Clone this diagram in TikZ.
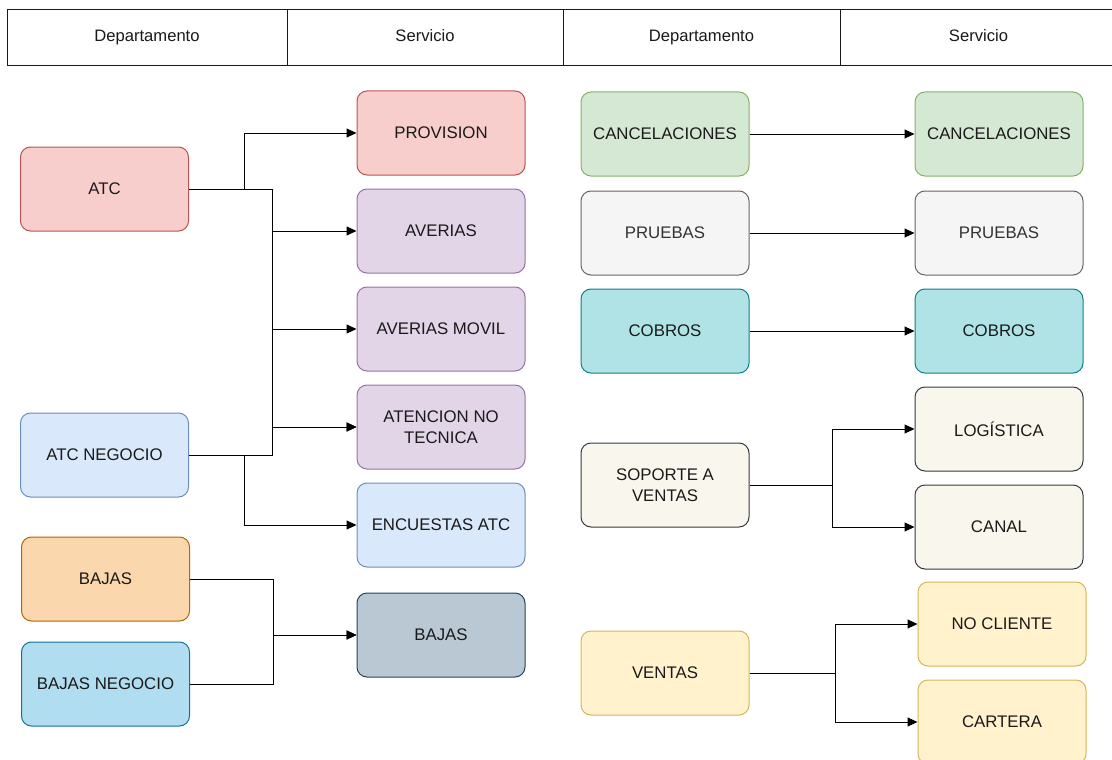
\documentclass[tikz,border=0pt]{standalone}
\usepackage{fontspec}
\setmainfont{Liberation Sans}
\usetikzlibrary{arrows.meta}

% draw.io palette
\definecolor{redF}{HTML}{F8CECC}\definecolor{redS}{HTML}{B85450}
\definecolor{purF}{HTML}{E1D5E7}\definecolor{purS}{HTML}{9673A6}
\definecolor{bluF}{HTML}{DAE8FC}\definecolor{bluS}{HTML}{6C8EBF}
\definecolor{oraF}{HTML}{FAD7AC}\definecolor{oraS}{HTML}{B46504}
\definecolor{skyF}{HTML}{B1DDF0}\definecolor{skyS}{HTML}{10739E}
\definecolor{slaF}{HTML}{BAC8D3}\definecolor{slaS}{HTML}{23445D}
\definecolor{grnF}{HTML}{D5E8D4}\definecolor{grnS}{HTML}{82B366}
\definecolor{gryF}{HTML}{F5F5F5}\definecolor{gryS}{HTML}{666666}\definecolor{gryT}{HTML}{333333}
\definecolor{tealF}{HTML}{B0E3E6}\definecolor{tealS}{HTML}{0E8088}
\definecolor{crmF}{HTML}{F9F7ED}\definecolor{crmS}{HTML}{36393D}
\definecolor{ylwF}{HTML}{FFF2CC}\definecolor{ylwS}{HTML}{D6B656}
\definecolor{ink}{HTML}{1A1A1A}

\begin{document}
\begin{tikzpicture}[x=1pt,y=-1pt,
  box/.style={rounded corners=10pt, minimum width=168pt, minimum height=84pt,
    line width=1pt, align=center, text=ink, inner sep=2pt,
    font=\fontsize{16.8}{21}\selectfont},
  red/.style={box, draw=redS, fill=redF},
  pur/.style={box, draw=purS, fill=purF},
  blu/.style={box, draw=bluS, fill=bluF},
  ora/.style={box, draw=oraS, fill=oraF},
  sky/.style={box, draw=skyS, fill=skyF},
  sla/.style={box, draw=slaS, fill=slaF},
  grn/.style={box, draw=grnS, fill=grnF},
  gry/.style={box, draw=gryS, fill=gryF, text=gryT},
  teal/.style={box, draw=tealS, fill=tealF},
  crm/.style={box, draw=crmS, fill=crmF},
  ylw/.style={box, draw=ylwS, fill=ylwF},
  hdr/.style={draw=ink, line width=1pt, fill=white, minimum height=56pt,
    inner sep=0pt, text height=12pt, text depth=3.5pt, text=ink,
    font=\fontsize{16.6}{20}\selectfont},
  link/.style={draw=black, line width=1pt, -{Triangle[length=10pt,width=9pt]}},
]
\useasboundingbox (0,0) rectangle (1112,760);

% header row
\node[hdr, minimum width=280pt] (h1) at (147,37.5) {Departamento};
\node[hdr, minimum width=276pt] (h2) at (425,37.5) {Servicio};
\node[hdr, minimum width=277pt] (h3) at (701.5,37.5) {Departamento};
\node[hdr, minimum width=277pt] (h4) at (978.5,37.5) {Servicio};

% left departments
\node[red] (atc)  at (104.5,189) {ATC};
\node[blu] (atcn) at (104.5,455) {ATC NEGOCIO};
\node[ora] (baj)  at (105.5,579) {BAJAS};
\node[sky] (bajn) at (105.5,684) {BAJAS NEGOCIO};

% left services
\node[red] (prov) at (441,133) {PROVISION};
\node[pur] (ave)  at (441,231) {AVERIAS};
\node[pur] (avem) at (441,329) {AVERIAS MOVIL};
\node[pur] (anot) at (441,427) {ATENCION NO\\TECNICA};
\node[blu] (enc)  at (441,525) {ENCUESTAS ATC};
\node[sla] (bajs) at (441,635) {BAJAS};

% right departments
\node[grn]  (cand) at (665,134) {CANCELACIONES};
\node[gry]  (prud) at (665,233) {PRUEBAS};
\node[teal] (cobd) at (665,331) {COBROS};
\node[crm]  (sop)  at (665,485) {SOPORTE A\\VENTAS};
\node[ylw]  (ven)  at (665,673) {VENTAS};

% right services
\node[grn]  (cans) at (999,134) {CANCELACIONES};
\node[gry]  (prus) at (999,233) {PRUEBAS};
\node[teal] (cobs) at (999,331) {COBROS};
\node[crm]  (log)  at (999,429) {LOGÍSTICA};
\node[crm]  (can)  at (999,527) {CANAL};
\node[ylw]  (nocl) at (1002,624) {NO CLIENTE};
\node[ylw]  (cart) at (1002,722) {CARTERA};

% left connectors
\draw[link] (atc.east) -- ++(55,0) |- (prov.west);
\draw[link] (atc.east) -- ++(83,0) |- (ave.west);
\draw[link] (atc.east) -- ++(83,0) |- (avem.west);
\draw[link] (atc.east) -- ++(83,0) |- (anot.west);
\draw[link] (atcn.east) -- ++(83,0) |- (anot.west);
\draw[link] (atcn.east) -- ++(55,0) |- (enc.west);
\draw[link] (baj.east) -- ++(83,0) |- (bajs.west);
\draw[link] (bajn.east) -- ++(83,0) |- (bajs.west);

% right connectors
\draw[link] (cand.east) -- (cans.west);
\draw[link] (prud.east) -- (prus.west);
\draw[link] (cobd.east) -- (cobs.west);
\draw[link] (sop.east) -- ++(83,0) |- (log.west);
\draw[link] (sop.east) -- ++(83,0) |- (can.west);
\draw[link] (ven.east) -- ++(86,0) |- (nocl.west);
\draw[link] (ven.east) -- ++(86,0) |- (cart.west);
\end{tikzpicture}
\end{document}
